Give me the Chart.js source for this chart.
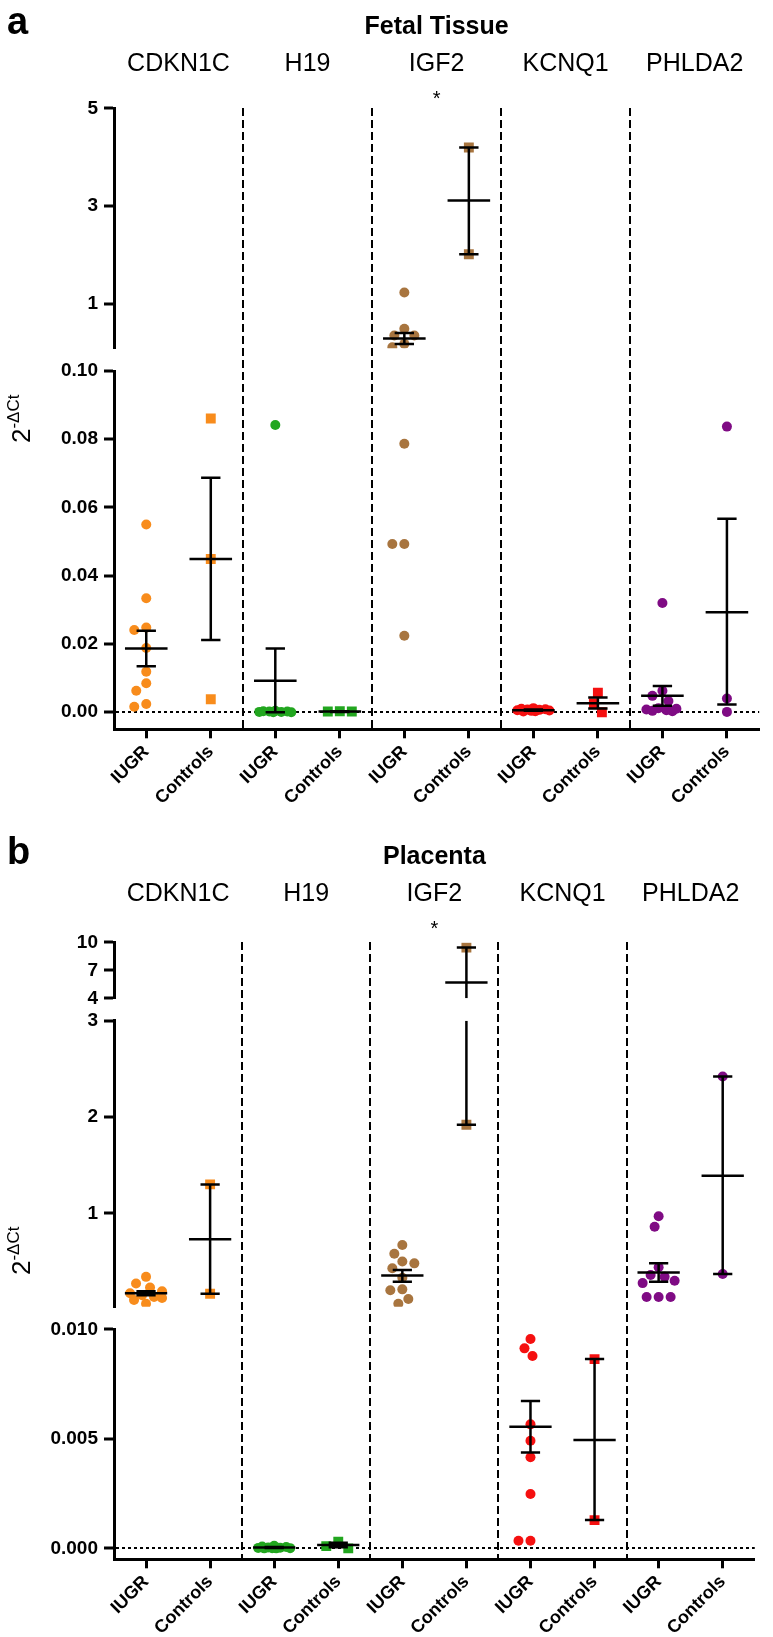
<!DOCTYPE html>
<html>
<head>
<meta charset="utf-8">
<script src="https://cdn.jsdelivr.net/npm/chart.js@4/dist/chart.umd.min.js"></script>
<style>
    html, body { margin: 0; padding: 0; background: #fff; }
    #wrap { position: relative; width: 773px; height: 1637px; }
    .panel { position: absolute; left: 0; }
</style>
</head>
<body>
<div id="wrap">
    <div class="panel" style="top:0"><canvas id="fetal" width="773" height="830"></canvas></div>
    <div class="panel" style="top:830px"><canvas id="placenta" width="773" height="807"></canvas></div>
</div>
<script>
const genes = ['CDKN1C', 'H19', 'IGF2', 'KCNQ1', 'PHLDA2'];
const groups = ['IUGR', 'Controls'];
const significant = ['IGF2'];

// a - fetal tissue, one list per gene
const fetalIUGR = [
    [0.055, 0.0334, 0.0248, 0.0241, 0.0188, 0.0119, 0.0085, 0.0063, 0.0024, 0.0016],
    [0.0842, 0.0004, 0.0003, 0.0002, 0.0002, 0.0001, 0.0001, 0.0000, 0.0000],
    [1.24, 0.50, 0.36, 0.36, 0.19, 0.12, 0.0787, 0.0493, 0.0493, 0.0224],
    [0.0012, 0.0010, 0.0009, 0.0008, 0.0007, 0.0006, 0.0005, 0.0004, 0.0003, 0.0002],
    [0.032, 0.0063, 0.0048, 0.0033, 0.0012, 0.0010, 0.0008, 0.0006, 0.0004, 0.0003]
];
const fetalControls = [
    [0.0861, 0.0449, 0.0038],
    [0.0003, 0.0002, 0.0002],
    [4.20, 2.02],
    [0.0057, 0.0026, 0.0000],
    [0.0837, 0.0040, 0.0001]
];
// mean +/- SEM, order: CDKN1C IUGR, CDKN1C Controls, H19 IUGR, ...
const fetalMean = [0.0187, 0.0449, 0.0092, 0.0002, 0.30, 3.12, 0.0006, 0.0026, 0.0048, 0.0293];
const fetalLow  = [0.0135, 0.0212, 0.0000, 0.0001, 0.19, 2.02, 0.0004, 0.0011, 0.0019, 0.0023];
const fetalHigh = [0.0239, 0.0687, 0.0187, 0.0003, 0.41, 4.20, 0.0008, 0.0043, 0.0077, 0.0567];
const fetalTicksUpper = [1, 3, 5];
const fetalTicksLower = [0, 0.02, 0.04, 0.06, 0.08, 0.10];

// b - placenta
const placentaIUGR = [
    [0.34, 0.27, 0.23, 0.19, 0.17, 0.15, 0.13, 0.12, 0.10, 0.06],
    [0.00012, 0.00008, 0.00006, 0.00004, 0.00003, 0.00002, 0.00001, 0.00001, 0.0000, 0.0000],
    [0.67, 0.58, 0.50, 0.48, 0.43, 0.33, 0.21, 0.20, 0.11, 0.06],
    [0.00956, 0.00913, 0.00878, 0.00566, 0.00491, 0.00416, 0.00248, 0.00035, 0.00035],
    [0.97, 0.86, 0.44, 0.36, 0.34, 0.30, 0.275, 0.13, 0.13, 0.13]
];
const placentaControls = [
    [1.30, 0.165],
    [0.0003, 0.0001, 0.0000],
    [9.43, 1.92],
    [0.00864, 0.00129],
    [2.42, 0.37]
];
const placentaMean = [0.17, 0.73, 0.00004, 0.00015, 0.354, 5.68, 0.00555, 0.00495, 0.385, 1.39];
const placentaLow  = [0.15, 0.165, 0.00002, 0.00005, 0.29, 1.92, 0.00438, 0.00129, 0.29, 0.37];
const placentaHigh = [0.19, 1.30, 0.00006, 0.00025, 0.41, 9.43, 0.00673, 0.00864, 0.48, 2.42];
const placentaTicksTop = [4, 7, 10];
const placentaTicksMid = [1, 2, 3];
const placentaTicksLow = [0, 0.005, 0.010];

const FONT = '"Liberation Sans", Arial, Helvetica, sans-serif';
const geneColors = ['#f88c1c', '#22a61f', '#a8753f', '#f51010', '#7f0b84'];
const controlMarkers = ['rect', 'rect', 'rect', 'rect', 'circle'];
const AXIS_W = 114;
const MEAN_HALF = 0.33;
const CAP_HALF = 0.15;
const SPREAD = 16;
const DOT_GAP = 11;

Chart.defaults.font.family = FONT;
Chart.defaults.color = '#000';

// letters, titles, star and the y title
const panelText = {
    id: 'panelText',
    afterDraw(chart, args, opts) {
        const ctx = chart.ctx;
        const area = chart.chartArea;
        ctx.save();
        ctx.fillStyle = '#000';
        ctx.textBaseline = 'alphabetic';
        ctx.textAlign = 'left';
        ctx.font = 'bold 38px ' + FONT;
        ctx.fillText(opts.letter, 7, 34);
        ctx.textAlign = 'center';
        ctx.font = 'bold 25px ' + FONT;
        ctx.fillText(opts.title, (area.left + area.right) / 2, 34);
        ctx.font = '20px ' + FONT;
        significant.forEach(function(g) {
            ctx.fillText('*', chart.scales.genes.getPixelForValue(genes.indexOf(g) * 2 + 0.5), 105);
        });
        ctx.translate(21, (area.top + area.bottom) / 2);
        ctx.rotate(-Math.PI / 2);
        ctx.textAlign = 'left';
        ctx.font = '26px ' + FONT;
        const w1 = ctx.measureText('2').width;
        ctx.font = '17px ' + FONT;
        const w2 = ctx.measureText('-\u0394Ct').width;
        const x0 = -(w1 + w2) / 2;
        ctx.font = '26px ' + FONT;
        ctx.fillText('2', x0, 9);
        ctx.font = '17px ' + FONT;
        ctx.fillText('-\u0394Ct', x0 + w1, -2);
        ctx.restore();
    }
};

// spread overlapping dots sideways, like a scatter dot plot
function spreadPoints(chart) {
    const xs = chart.scales.x;
    const unit = xs.getPixelForValue(1) - xs.getPixelForValue(0);
    const byGroup = {};
    chart.data.datasets.forEach(function(ds) {
        if (ds.type !== 'scatter') return;
        const ys = chart.scales[ds.yAxisID];
        ds.data.forEach(function(pt) {
            (byGroup[pt.g] = byGroup[pt.g] || []).push({ pt: pt, py: ys.getPixelForValue(pt.y) });
        });
    });
    Object.keys(byGroup).forEach(function(key) {
        const list = byGroup[key].sort((a, b) => a.py - b.py);
        const placed = [];
        list.forEach(function(item) {
            let best = 0, bestD = -1;
            for (let c = 0; c <= SPREAD; c += 2) {
                const cands = c === 0 ? [0] : [-c, c];
                for (const off of cands) {
                    let d = Infinity;
                    placed.forEach(p => { d = Math.min(d, Math.hypot(p.ox - off, p.py - item.py)); });
                    if (d > bestD + 0.01) { bestD = d; best = off; }
                }
                if (bestD >= DOT_GAP) break;
            }
            item.ox = best;
            placed.push(item);
            item.pt.x = item.pt.g + best / unit;
        });
    });
    chart.update('none');
}

function buildPanel(canvasId, panel) {
    const scales = {};
    const datasets = [];
    const positions = [];
    genes.forEach((g, gi) => groups.forEach((_, k) => positions.push(gi * 2 + k)));
    const segs = panel.axes.filter(s => s.id);

    scales.x = {
        type: 'linear', position: 'bottom', bounds: 'data', min: -0.5, max: 9.5,
        afterBuildTicks: s => { s.ticks = positions.map(v => ({ value: v })); },
        afterFit: s => { s.height = panel.xAxisH; },
        border: { display: true, color: '#000', width: 3 },
        grid: { drawOnChartArea: false, drawTicks: true, tickLength: 9, tickWidth: 3, tickColor: '#000' },
        ticks: {
            autoSkip: false, maxRotation: 45, minRotation: 45, padding: 3, color: '#000',
            font: { family: FONT, size: 18, weight: 'bold' },
            callback: v => groups[Math.round(v) % 2]
        }
    };
    scales.genes = {
        type: 'linear', position: 'top', bounds: 'data', min: -0.5, max: 9.5,
        afterBuildTicks: s => { s.ticks = genes.map((g, i) => ({ value: i * 2 + 0.5 })); },
        afterFit: s => { s.height = panel.topH; },
        border: { display: false, dash: [8, 4] },
        grid: {
            offset: true, drawTicks: false, lineWidth: 2,
            color: c => (c.index >= 1 && c.index < genes.length) ? '#000' : 'rgba(0,0,0,0)'
        },
        ticks: {
            autoSkip: false, maxRotation: 0, padding: panel.genePad, color: '#000',
            font: { family: FONT, size: 25 },
            callback: (v, i) => genes[i]
        }
    };
    panel.axes.forEach(function(seg, i) {
        const base = {
            type: 'linear', axis: 'y', position: 'left', stack: 'left', stackWeight: seg.h,
            weight: panel.axes.length - i, bounds: 'data',
            afterFit: s => { s.width = AXIS_W; }
        };
        if (!seg.id) {
            scales['gap' + i] = Object.assign(base, {
                min: 0, max: 1, border: { display: false }, grid: { display: false }, ticks: { display: false }
            });
            return;
        }
        scales[seg.id] = Object.assign(base, {
            min: seg.min, max: seg.max,
            afterBuildTicks: s => { s.ticks = seg.ticks.map(v => ({ value: v })); },
            border: { display: true, color: '#000', width: 3, dash: [3, 3] },
            grid: {
                lineWidth: 2, tickLength: 10, tickWidth: 3, tickColor: '#000', tickBorderDash: [],
                color: c => (c.tick && c.tick.value === 0) ? '#000' : 'rgba(0,0,0,0)'
            },
            ticks: {
                autoSkip: false, padding: 6, color: '#000',
                font: { family: FONT, size: 19, weight: 'bold' },
                callback: v => v.toFixed(seg.digits)
            }
        });
    });

    function segmentOf(v) {
        let best = segs[0], bestD = Infinity;
        segs.forEach(function(s) {
            const d = v < s.min ? s.min - v : (v > s.max ? v - s.max : 0);
            if (d < bestD) { bestD = d; best = s; }
        });
        return best;
    }
    function addLine(axisId, pts) {
        datasets.push({
            type: 'line', xAxisID: 'x', yAxisID: axisId, order: 0, data: pts,
            borderColor: '#000', borderWidth: 2.5, pointRadius: 0, fill: false, tension: 0
        });
    }

    positions.forEach(function(pos) {
        const gi = Math.floor(pos / 2), k = pos % 2;
        const values = (k === 0 ? panel.iugr : panel.controls)[gi];
        const marker = k === 0 ? 'circle' : controlMarkers[gi];
        const bySeg = {};
        values.forEach(function(v) {
            const s = segmentOf(v);
            (bySeg[s.id] = bySeg[s.id] || []).push({ x: pos, y: v, g: pos });
        });
        Object.keys(bySeg).forEach(function(id) {
            datasets.push({
                type: 'scatter', xAxisID: 'x', yAxisID: id, order: 2, data: bySeg[id],
                pointStyle: marker, pointRadius: marker === 'circle' ? 5 : 7,
                backgroundColor: geneColors[gi], borderWidth: 0
            });
        });
        const mean = panel.mean[pos], lo = panel.low[pos], hi = panel.high[pos];
        segs.forEach(function(s) {
            const inSeg = v => v >= s.min && v <= s.max;
            const a = Math.max(lo, s.min), b = Math.min(hi, s.max);
            if (a < b) addLine(s.id, [{ x: pos, y: a }, { x: pos, y: b }]);
            if (inSeg(lo)) addLine(s.id, [{ x: pos - CAP_HALF, y: lo }, { x: pos + CAP_HALF, y: lo }]);
            if (inSeg(hi)) addLine(s.id, [{ x: pos - CAP_HALF, y: hi }, { x: pos + CAP_HALF, y: hi }]);
            if (inSeg(mean)) addLine(s.id, [{ x: pos - MEAN_HALF, y: mean }, { x: pos + MEAN_HALF, y: mean }]);
        });
    });

    const chart = new Chart(document.getElementById(canvasId), {
        type: 'scatter',
        data: { datasets: datasets },
        options: {
            responsive: false,
            animation: false,
            events: [],
            layout: { padding: { left: 0, right: 4, top: 0, bottom: 0 } },
            plugins: {
                legend: { display: false },
                tooltip: { enabled: false },
                panelText: { letter: panel.letter, title: panel.title }
            },
            scales: scales
        },
        plugins: [panelText]
    });
    spreadPoints(chart);
    return chart;
}

buildPanel('fetal', {
    letter: 'a', title: 'Fetal Tissue',
    iugr: fetalIUGR, controls: fetalControls,
    mean: fetalMean, low: fetalLow, high: fetalHigh,
    topH: 108.3, genePad: 29, xAxisH: 100.7,
    axes: [
        { id: 'yUp', min: 0.1, max: 5, ticks: fetalTicksUpper, digits: 0, h: 240 },
        { h: 22.7 },
        { id: 'yLow', min: -0.005, max: 0.10, ticks: fetalTicksLower, digits: 2, h: 358.3 }
    ]
});

buildPanel('placenta', {
    letter: 'b', title: 'Placenta',
    iugr: placentaIUGR, controls: placentaControls,
    mean: placentaMean, low: placentaLow, high: placentaHigh,
    topH: 112.3, genePad: 33, xAxisH: 77.7,
    axes: [
        { id: 'yTop', min: 4, max: 10, ticks: placentaTicksTop, digits: 0, h: 56 },
        { h: 22.4 },
        { id: 'yMid', min: 0.03, max: 3, ticks: placentaTicksMid, digits: 0, h: 286 },
        { h: 22.6 },
        { id: 'yLow', min: -0.0005, max: 0.010, ticks: placentaTicksLow, digits: 3, h: 230 }
    ]
});
</script>
</body>
</html>
